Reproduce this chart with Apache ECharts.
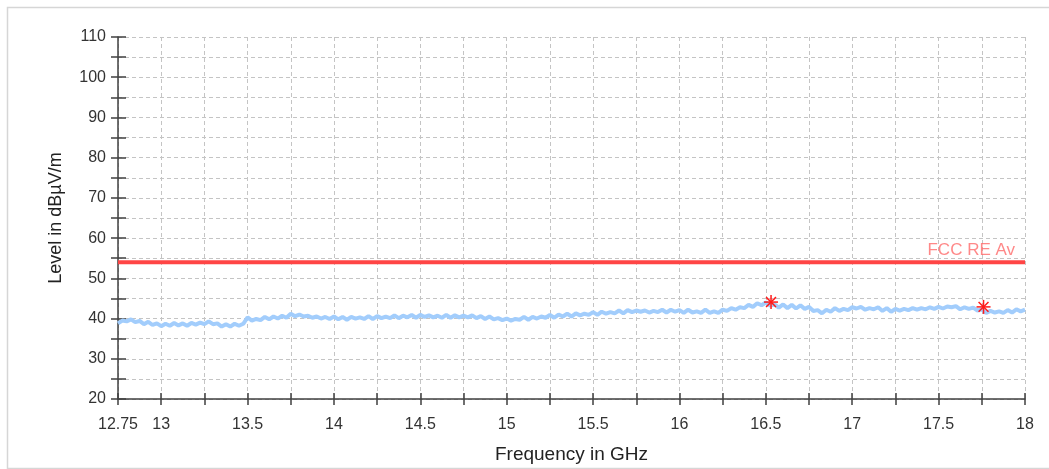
<!DOCTYPE html>
<html>
<head>
<meta charset="utf-8">
<script src="https://cdn.jsdelivr.net/npm/echarts@6/dist/echarts.min.js"></script>
<style>html,body{margin:0;padding:0;background:#fff;}#c{width:1049px;height:469px;}</style>
</head>
<body>
<div id="c"></div>
<script>
// Sweep: start frequency and step (GHz)
const freqStart = 12.75;
const freqStep = 0.025;
// Measured level (dBµV/m), one value per sweep point, 12.75 .. 18 GHz
const levels = [
  38.8, 39.5, 39.3, 39.8, 39.1, 39.4, 38.6, 39.2, 38.4, 38.8,
  38.1, 38.7, 38.2, 38.9, 38.3, 38.8, 38.2, 38.9, 38.5, 39.0,
  38.6, 39.3, 38.6, 38.8, 38.0, 38.6, 38.0, 38.7, 38.2, 38.7,
  40.3, 39.5, 39.9, 39.6, 40.4, 39.8, 40.5, 40.0, 40.7, 40.2,
  41.2, 40.6, 41.0, 40.5, 40.7, 40.2, 40.5, 40.0, 40.4, 39.9,
  40.5, 39.8, 40.4, 39.7, 40.4, 40.0, 40.3, 39.9, 40.6, 39.9,
  40.6, 40.1, 40.5, 40.1, 40.8, 40.1, 40.7, 40.3, 40.9, 40.2,
  40.9, 40.4, 40.8, 40.3, 40.7, 40.2, 40.9, 40.2, 40.8, 40.3,
  40.7, 40.3, 40.8, 40.1, 40.6, 39.9, 40.5, 39.8, 40.1, 39.6,
  40.0, 39.5, 39.9, 39.7, 40.4, 39.7, 40.4, 40.0, 40.5, 40.2,
  40.9, 40.2, 41.0, 40.5, 41.2, 40.5, 41.3, 40.8, 41.2, 40.9,
  41.6, 40.9, 41.7, 41.2, 41.6, 41.3, 42.0, 41.3, 42.1, 41.6,
  42.0, 41.7, 42.0, 41.5, 41.9, 41.6, 42.2, 41.5, 42.2, 41.7,
  42.1, 41.4, 42.2, 41.5, 41.8, 41.4, 42.2, 41.4, 41.8, 41.4,
  42.2, 41.9, 42.6, 42.2, 42.8, 42.6, 43.4, 42.9, 43.8, 43.3,
  44.0, 43.2, 43.5, 42.7, 43.5, 42.6, 43.4, 42.5, 43.3, 42.4,
  42.9, 41.9, 42.1, 41.3, 42.2, 41.7, 42.6, 41.9, 42.4, 42.1,
  42.8, 42.5, 42.9, 42.2, 42.6, 42.3, 42.8, 41.9, 42.6, 41.7,
  42.4, 42.0, 42.4, 42.1, 42.6, 42.2, 42.6, 42.3, 42.8, 42.4,
  42.9, 42.5, 43.0, 42.8, 43.1, 42.3, 42.8, 42.4, 42.7, 42.0,
  42.3, 41.4, 41.9, 41.5, 41.8, 41.4, 42.1, 41.5, 42.3, 41.8,
  42.2
];
// Limit line
const limitName = 'FCC RE Av';
const limitFreq = [12.75, 18];
const limitLevel = [54, 54];
// Peak markers [GHz, dBµV/m]
const peaks = [[16.53, 44.1], [17.76, 42.9]];
// Axes
const xMin = 12.75, xMax = 18, xInterval = 0.25;
const yMin = 20, yMax = 110, yInterval = 5;
const xTitle = 'Frequency in GHz';
const yTitle = 'Level in dBµV/m';

const traceData = levels.map((v, i) => [+(freqStart + i * freqStep).toFixed(4), v]);
const limitData = limitFreq.map((f, i) => [f, limitLevel[i]]);

const font = 'Liberation Sans, Arial, sans-serif';
const axisColor = '#404040';
const gridLine = { show: true, lineStyle: { color: '#c4c4c4', width: 1, type: [4, 3] } };

const chart = echarts.init(document.getElementById('c'), null, { renderer: 'canvas' });
chart.setOption({
  animation: false,
  backgroundColor: '#fff',
  graphic: [{
    type: 'rect', left: 5, top: 5, silent: true, z: -10,
    shape: { width: 1100, height: 461 },
    style: { fill: 'none', stroke: '#d6d6d6', lineWidth: 1.5 }
  }],
  grid: { left: 118, right: 24, top: 37, bottom: 65 },
  xAxis: [{
    type: 'value', min: xMin, max: xMax, interval: xInterval,
    name: xTitle, nameLocation: 'middle', nameGap: 46,
    nameTextStyle: { fontFamily: font, fontSize: 19, color: '#222' },
    axisLine: { show: true, onZero: false, lineStyle: { color: axisColor, width: 1.5 } },
    axisTick: { show: true, inside: false, length: 6, lineStyle: { color: axisColor, width: 1.5 } },
    axisLabel: {
      fontFamily: font, fontSize: 16, color: '#333', margin: 18, showMaxLabel: true, showMinLabel: true,
      formatter: v => (Math.abs(v - 12.75) < 1e-6 || Math.abs(v * 2 - Math.round(v * 2)) < 1e-6) ? String(+v.toFixed(2)) : ''
    },
    splitLine: gridLine
  }, {
    type: 'value', min: xMin, max: xMax, interval: xInterval, position: 'bottom',
    axisLine: { show: false },
    axisTick: { show: true, inside: true, length: 6, lineStyle: { color: axisColor, width: 1.5 } },
    axisLabel: { show: false }, splitLine: { show: false }
  }],
  yAxis: [{
    type: 'value', min: yMin, max: yMax, interval: yInterval,
    name: yTitle, nameLocation: 'middle', nameGap: 53, nameRotate: 90,
    nameTextStyle: { fontFamily: font, fontSize: 18, color: '#222' },
    axisLine: { show: true, onZero: false, lineStyle: { color: axisColor, width: 1.5 } },
    axisTick: { show: true, inside: false, length: 7, lineStyle: { color: axisColor, width: 1.5 } },
    axisLabel: {
      fontFamily: font, fontSize: 16, color: '#333', margin: 12,
      formatter: v => (v % 10 === 0) ? String(v) : ''
    },
    splitLine: gridLine
  }, {
    type: 'value', min: yMin, max: yMax, interval: yInterval, position: 'left',
    axisLine: { show: false },
    axisTick: { show: true, inside: true, length: 8, lineStyle: { color: axisColor, width: 1.5 } },
    axisLabel: { show: false }, splitLine: { show: false }
  }],
  series: [{
    type: 'line', name: 'trace', data: traceData, showSymbol: false, symbol: 'none',
    lineStyle: { color: '#a2cdfc', width: 4 }, z: 3
  }, {
    type: 'line', name: limitName, data: limitData, showSymbol: false, symbol: 'none',
    lineStyle: { color: '#ff4545', width: 4 }, z: 4
  }, {
    type: 'scatter', name: 'labelPoint', data: [limitData[limitData.length - 1]],
    symbolSize: 0, silent: true, z: 5,
    label: {
      show: true, position: 'top', align: 'right', distance: 3, offset: [-10, 0],
      formatter: limitName, fontFamily: font, fontSize: 17, color: '#ff6a6a'
    }
  }, {
    type: 'custom', name: 'peaks', data: peaks, z: 6,
    renderItem: (params, api) => {
      const p = api.coord([api.value(0), api.value(1)]);
      const r = 7;
      const children = [];
      for (let k = 0; k < 4; k++) {
        const a = k * Math.PI / 4;
        children.push({
          type: 'line',
          shape: { x1: p[0] - r * Math.cos(a), y1: p[1] - r * Math.sin(a), x2: p[0] + r * Math.cos(a), y2: p[1] + r * Math.sin(a) },
          style: { stroke: '#ff1a1a', lineWidth: 1.5 }
        });
      }
      return { type: 'group', children };
    }
  }]
});
</script>
</body>
</html>
